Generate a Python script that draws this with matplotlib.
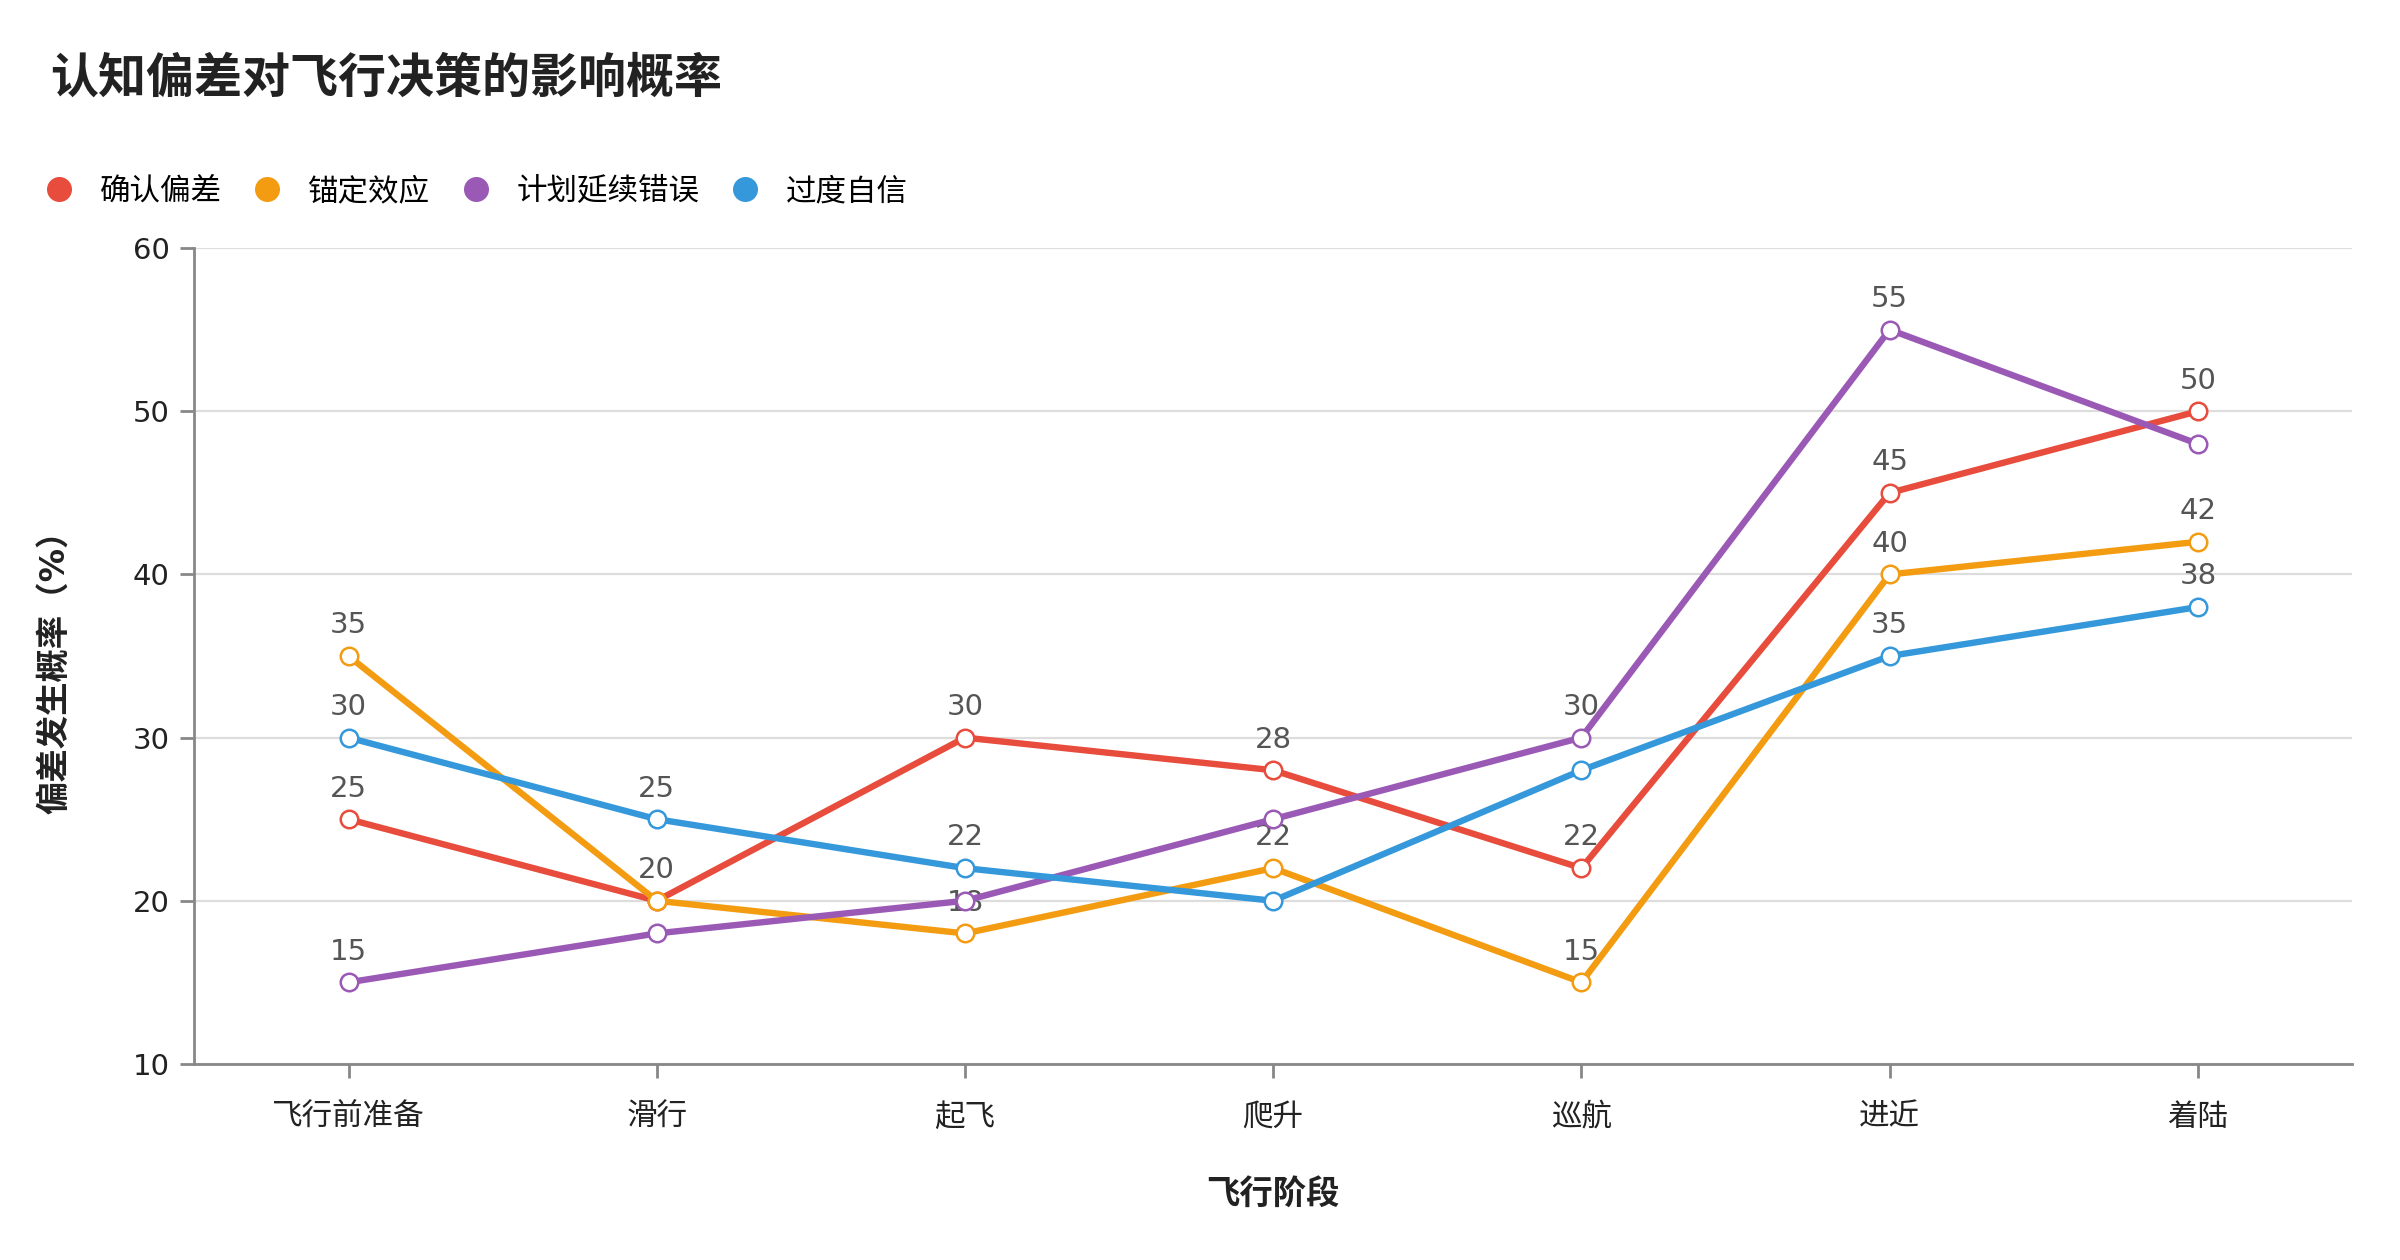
import matplotlib
matplotlib.use('Agg')
import matplotlib.pyplot as plt
from matplotlib.lines import Line2D

plt.rcParams['font.family'] = ['DejaVu Sans', 'Noto Sans CJK SC']

# 数据
stages = ['飞行前准备', '滑行', '起飞', '爬升', '巡航', '进近', '着陆']
confirm_bias = [25, 20, 30, 28, 22, 45, 50]
anchoring = [35, 20, 18, 22, 15, 40, 42]
plan_continuation = [15, 18, 20, 25, 30, 55, 48]
overconfidence = [30, 25, 22, 20, 28, 35, 38]

series_names = ['确认偏差', '锚定效应', '计划延续错误', '过度自信']
# 图中实际显示的数值标签（重叠的被隐藏）
shown_labels = [
    [0, 1, 2, 3, 4, 5, 6],
    [0, 2, 3, 4, 5, 6],
    [0, 4, 5],
    [0, 1, 2, 5, 6],
]

colors = ['#e74c3c', '#f39c12', '#9b59b6', '#3498db']
series = [confirm_bias, anchoring, plan_continuation, overconfidence]

fig = plt.figure(figsize=(12, 6.3), dpi=200)
ax = fig.add_axes([0.081, 0.1556, 0.899, 0.6475])

x = list(range(len(stages)))
for i, (vals, name, c) in enumerate(zip(series, series_names, colors)):
    ax.plot(x, vals, color=c, lw=2.3, marker='o', ms=6.3, mfc='white',
            mec=c, mew=0.9, zorder=3 + i, label=name)
    for j in shown_labels[i]:
        ax.annotate(str(vals[j]), (x[j], vals[j]), xytext=(0, 6),
                    textcoords='offset points', ha='center', va='bottom',
                    fontsize=10.5, color='#555555', zorder=3 + i)

ax.set_xlim(-0.5, len(stages) - 0.5)
ax.set_ylim(10, 60)
ax.set_yticks([10, 20, 30, 40, 50, 60])
ax.set_xticks(x)
ax.set_xticklabels(stages)

ax.grid(axis='y', color='#dddddd', lw=0.8, zorder=0)
ax.set_axisbelow(True)
for s in ['top', 'right']:
    ax.spines[s].set_visible(False)
for s in ['left', 'bottom']:
    ax.spines[s].set_color('#888888')
    ax.spines[s].set_linewidth(1.0)
ax.tick_params(axis='y', length=5, width=1.0, color='#888888', pad=4,
               labelsize=10.5, labelcolor='#222222')
ax.tick_params(axis='x', length=5, width=1.0, color='#888888', pad=9,
               labelsize=11, labelcolor='#222222')

ax.set_ylabel('偏差发生概率（%）', fontsize=12, fontweight='bold', color='#222222')
ax.yaxis.set_label_coords(-0.057, 0.49)
ax.set_xlabel('飞行阶段', fontsize=12, fontweight='bold', color='#222222')
ax.xaxis.set_label_coords(0.5, -0.139)

fig.text(0.021, 0.937, '认知偏差对飞行决策的影响概率', fontsize=17.3,
         fontweight='bold', va='center', ha='left', color='#222222')

handles = [Line2D([], [], ls='none', marker='o', ms=8, color=c) for c in colors]
fig.legend(handles, series_names, loc='center left',
           bbox_to_anchor=(0.013, 0.848), ncol=4, frameon=False,
           fontsize=11, handletextpad=0.85, columnspacing=0.98,
           handlelength=1.0, borderaxespad=0)

fig.savefig('out.png', dpi=200, facecolor='white')
